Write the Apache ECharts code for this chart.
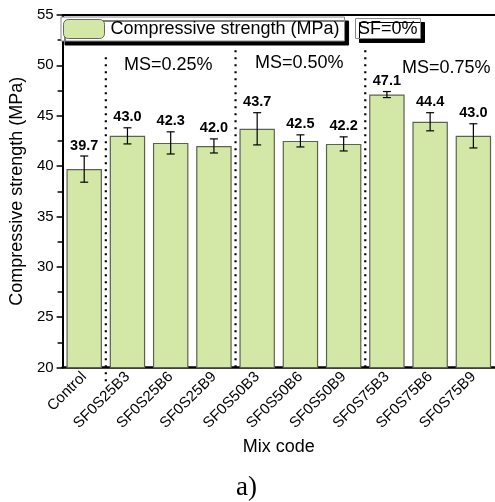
<!DOCTYPE html>
<html><head><meta charset="utf-8">
<script src="https://cdn.jsdelivr.net/npm/echarts@6/dist/echarts.min.js"></script>
<style>html,body{margin:0;padding:0;background:#fff}#c{width:495px;height:502px}</style>
</head><body><div id="c"></div>
<script>
const categories = ['Control','SF0S25B3','SF0S25B6','SF0S25B9','SF0S50B3','SF0S50B6','SF0S50B9','SF0S75B3','SF0S75B6','SF0S75B9'];
const strength = [39.7, 43.0, 42.3, 42.0, 43.7, 42.5, 42.2, 47.1, 44.4, 43.0];
const errors = [1.3, 0.8, 1.1, 0.7, 1.6, 0.6, 0.7, 0.3, 0.9, 1.2];
const groupStarts = [1, 4, 7];
const groupLabels = ['MS=0.25%', 'MS=0.50%', 'MS=0.75%'];
const yTicks = [20, 55, 5];

const chart = echarts.init(document.getElementById('c'), null, {renderer:'canvas'});
const F = 'Arial, "Liberation Sans", sans-serif';
const errData = strength.map((v,i)=>[i, v-errors[i], v+errors[i]]);
const topData = strength.map((v,i)=>[i, v+errors[i], v]);
const sepData = groupStarts.map((g,k)=>[g, k]);

chart.setOption({
  animation:false,
  grid:{left:58, top:15, right:-3.7, bottom:134.5},
  legend:{
    data:['Compressive strength (MPa)'], left:61, top:17,
    padding:[2,5,2,2], itemGap:0, itemWidth:41, itemHeight:19,
    textStyle:{fontFamily:F, fontSize:18, color:'#000', padding:[0,0,0,1]},
    backgroundColor:'#fff', borderColor:'#888', borderWidth:1,
    shadowColor:'#000', shadowBlur:0, shadowOffsetX:4, shadowOffsetY:4,
    itemStyle:{borderColor:'#666', borderWidth:1}
  },
  title:[
    {text:'SF=0%', left:355, top:18, padding:[2,3,1,3], backgroundColor:'#fff', borderColor:'#888', borderWidth:1,
     shadowColor:'#000', shadowBlur:0, shadowOffsetX:4, shadowOffsetY:4,
     textStyle:{fontFamily:F, fontSize:18, fontWeight:'normal', color:'#000'}},
    {text:groupLabels[0], left:124, top:56, textStyle:{fontFamily:F, fontSize:18, fontWeight:'normal', color:'#000'}, padding:0},
    {text:groupLabels[1], left:255, top:54, textStyle:{fontFamily:F, fontSize:18, fontWeight:'normal', color:'#000'}, padding:0},
    {text:groupLabels[2], left:402, top:59, textStyle:{fontFamily:F, fontSize:18, fontWeight:'normal', color:'#000'}, padding:0},
    {text:'a)', left:236, top:474, textStyle:{fontFamily:'"Liberation Serif", "DejaVu Serif", serif', fontSize:27, fontWeight:'normal', color:'#000'}, padding:0}
  ],
  xAxis:[{
    type:'category', data:categories, boundaryGap:true,
    name:'Mix code', nameLocation:'middle', nameGap:61,
    nameTextStyle:{fontFamily:F, fontSize:18, color:'#000'},
    axisLine:{lineStyle:{color:'#000', width:2.5}},
    axisTick:{inside:true, alignWithLabel:true, length:6, lineStyle:{color:'#000', width:1.5}},
    axisLabel:{rotate:45, fontFamily:F, fontSize:15, color:'#000', margin:7, interval:0},
    splitLine:{show:false}
  },{
    type:'category', data:categories, position:'top',
    axisLine:{lineStyle:{color:'#000', width:2}}, axisTick:{show:false}, axisLabel:{show:false}
  }],
  yAxis:{
    type:'value', min:yTicks[0], max:yTicks[1], interval:yTicks[2],
    name:'Compressive strength (MPa)', nameLocation:'middle', nameGap:33,
    nameTextStyle:{fontFamily:F, fontSize:18, color:'#000'},
    axisLine:{show:true, lineStyle:{color:'#000', width:2}},
    axisTick:{show:true, length:6, lineStyle:{color:'#000', width:1.5}},
    minorTick:{show:true, splitNumber:2, length:5, lineStyle:{color:'#000', width:1.5}},
    axisLabel:{fontFamily:F, fontSize:15, color:'#000', margin:9},
    splitLine:{show:false}
  },
  series:[
    {name:'Compressive strength (MPa)', type:'bar', data:strength, barWidth:'82%',
     itemStyle:{color:'#d3e8a6', borderColor:'#5b6350', borderWidth:1.2}, z:2},
    {type:'custom', data:errData, z:3, renderItem:(p,api)=>{
      const x = api.value(0), lo=api.coord([x, api.value(1)]), hi=api.coord([x, api.value(2)]);
      const w=4, s={stroke:'#000', lineWidth:1.2};
      return {type:'group', children:[
        {type:'line', shape:{x1:lo[0],y1:lo[1],x2:hi[0],y2:hi[1]}, style:s},
        {type:'line', shape:{x1:lo[0]-w,y1:lo[1],x2:lo[0]+w,y2:lo[1]}, style:s},
        {type:'line', shape:{x1:hi[0]-w,y1:hi[1],x2:hi[0]+w,y2:hi[1]}, style:s}
      ]};
    }},
    {type:'custom', data:topData, z:4, renderItem:(p,api)=>{
      const x = api.value(0), pt=api.coord([x, api.value(1)]);
      return {type:'text', x:pt[0], y:pt[1]-3, style:{text:api.value(2).toFixed(1), fontFamily:F, fontSize:14.5, fontWeight:'bold', fill:'#000', align:'center', verticalAlign:'bottom'}};
    }},
    {type:'custom', data:sepData, z:5, clip:false, renderItem:(p,api)=>{
      const i = api.value(0), c=api.coord([i, 20]), w=api.size([1,0])[0];
      const x = c[0]-w/2, top = p.dataIndex===0 ? api.coord([i, 50.8])[1] : api.coord([i, 51.5])[1];
      const bottom = p.dataIndex===0 ? c[1]+17 : c[1];
      return {type:'line', shape:{x1:x,y1:top,x2:x,y2:bottom}, style:{stroke:'#000', lineWidth:2.2, lineDash:[2,5]}};
    }}
  ]
});
</script></body></html>
